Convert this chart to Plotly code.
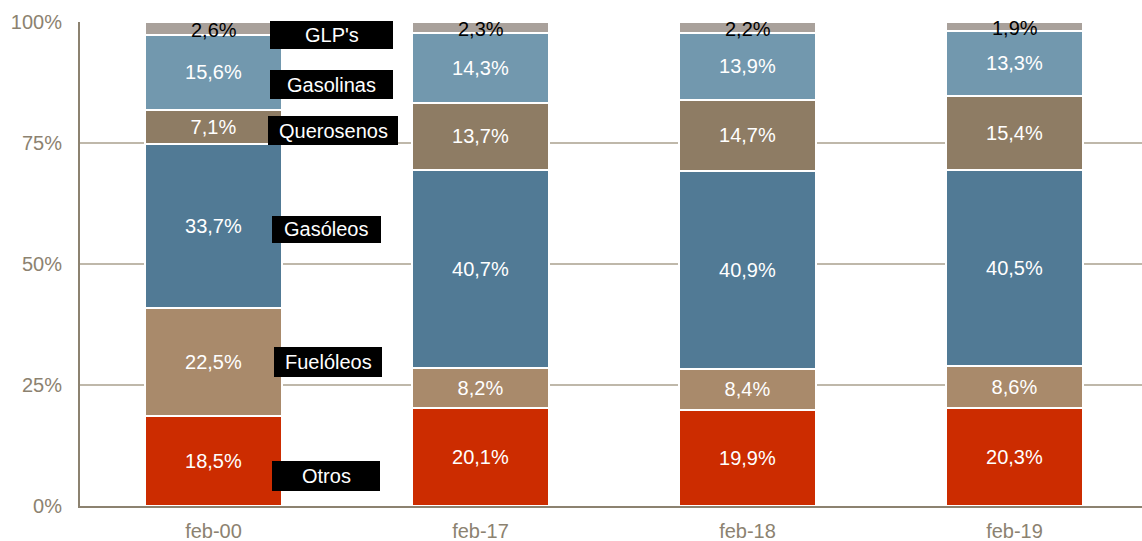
import plotly.graph_objects as go

# Periods and product shares (%)
periods = ["feb-00", "feb-17", "feb-18", "feb-19"]
otros = [18.5, 20.1, 19.9, 20.3]
fueloleos = [22.5, 8.2, 8.4, 8.6]
gasoleos = [33.7, 40.7, 40.9, 40.5]
querosenos = [7.1, 13.7, 14.7, 15.4]
gasolinas = [15.6, 14.3, 13.9, 13.3]
glps = [2.6, 2.3, 2.2, 1.9]

series = [
    ("Otros", otros, "#CC2C00"),
    ("Fuelóleos", fueloleos, "#A98A6B"),
    ("Gasóleos", gasoleos, "#517A95"),
    ("Querosenos", querosenos, "#8E7C64"),
    ("Gasolinas", gasolinas, "#7298AE"),
    ("GLP's", glps, "#A9A19B"),
]

FONT = "Liberation Sans, Arial, sans-serif"
AXIS_COLOR = "#8C8270"
FS = 20

W, H = 1142, 541
ML, MR, MT, MB = 80, 0, 22, 35
plot_w = W - ML - MR
plot_h = H - MT - MB

fig = go.Figure()
for name, vals, color in series:
    is_small = name == "GLP's"
    fig.add_trace(go.Bar(
        x=periods,
        y=vals,
        name=name,
        marker=dict(color=color, line=dict(color="white", width=2)),
        width=0.515,
        text=None if is_small else [f"{v:.1f}%".replace(".", ",") for v in vals],
        textposition="inside",
        insidetextanchor="middle",
        textfont=dict(family=FONT, size=FS, color="white"),
        textangle=0,
        hoverinfo="skip",
    ))

# Thin top segment labels, drawn in black at the segment centre
annotations = []
for i, p in enumerate(periods):
    total = sum(s[1][i] for s in series)
    top = glps[i] / total * 100
    annotations.append(dict(
        x=p, y=100 - top / 2 - 0.3, xref="x", yref="y",
        text=f"{glps[i]:.1f}%".replace(".", ","),
        showarrow=False, yanchor="middle",
        font=dict(family=FONT, size=FS, color="black"),
    ))

# Black name tags next to the first column (pixel boxes)
tags = [
    ("GLP's", 270, 393, 21, 49),
    ("Gasolinas", 270, 393, 70, 99),
    ("Querosenos", 268, 398, 116, 145),
    ("Gasóleos", 272, 381, 216, 243),
    ("Fuelóleos", 274, 382, 347, 377),
    ("Otros", 272, 380, 461, 491),
]
shapes = []
for label, x0, x1, y0, y1 in tags:
    px0 = (x0 - ML) / plot_w
    px1 = (x1 - ML) / plot_w
    py0 = (H - MB - y1) / plot_h
    py1 = (H - MB - y0) / plot_h
    shapes.append(dict(type="rect", xref="paper", yref="paper",
                       x0=px0, x1=px1, y0=py0, y1=py1,
                       fillcolor="black", line=dict(width=0), layer="above"))
    annotations.append(dict(
        x=(px0 + px1) / 2, y=(py0 + py1) / 2, xref="paper", yref="paper",
        text=label, showarrow=False, xanchor="center", yanchor="middle",
        font=dict(family=FONT, size=FS, color="white"),
    ))

fig.update_layout(
    width=W, height=H,
    margin=dict(l=ML, r=MR, t=MT, b=MB, pad=0),
    barmode="stack",
    barnorm="percent",
    paper_bgcolor="white",
    plot_bgcolor="white",
    showlegend=False,
    shapes=shapes,
    annotations=annotations,
    uniformtext=dict(minsize=FS, mode="show"),
)
fig.update_xaxes(
    range=[-0.5, -0.5 + plot_w / 267.0],
    showline=True, linecolor=AXIS_COLOR, linewidth=2,
    showgrid=False, ticks="",
    tickfont=dict(family=FONT, size=FS, color=AXIS_COLOR),
    ticklabelstandoff=6,
)
fig.update_yaxes(
    range=[0, 100],
    tickvals=[0, 25, 50, 75, 100],
    ticktext=["0%", "25%", "50%", "75%", "100%"],
    showline=True, linecolor=AXIS_COLOR, linewidth=2,
    showgrid=True, gridcolor="#BFB8AA", gridwidth=1.5,
    zeroline=False, ticks="",
    tickfont=dict(family=FONT, size=FS, color=AXIS_COLOR),
    ticklabelstandoff=12,
)

fig.write_html("out.html")
